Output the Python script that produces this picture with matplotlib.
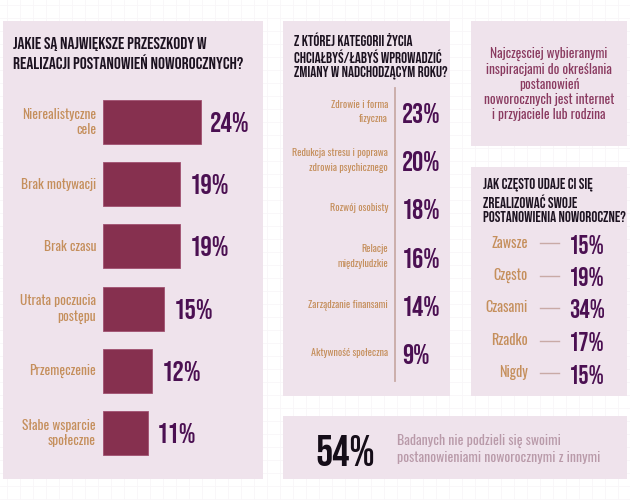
import matplotlib

matplotlib.use("Agg")
import matplotlib.pyplot as plt
from matplotlib.patches import Rectangle

# --- data ---
obstacles = ["Nierealistyczne\ncele", "Brak motywacji", "Brak czasu",
             "Utrata poczucia\npostępu", "Przemęczenie", "Słabe wsparcie\nspołeczne"]
obstacle_pct = [24, 19, 19, 15, 12, 11]

areas = ["Zdrowie i forma\nfizyczna", "Redukcja stresu i poprawa\nzdrowia psychicznego",
         "Rozwój osobisty", "Relacje\nmiędzyludzkie", "Zarządzanie finansami",
         "Aktywność społeczna"]
area_pct = [23, 20, 18, 16, 14, 9]

freq = ["Zawsze", "Często", "Czasami", "Rzadko", "Nigdy"]
freq_pct = [15, 19, 34, 17, 15]

share_not_shared = 54

title_left = "JAKIE SĄ NAJWIĘKSZE PRZESZKODY W\nREALIZACJI POSTANOWIEŃ NOWOROCZNYCH?"
title_mid = "Z KTÓREJ KATEGORII ŻYCIA\nCHCIAŁBYŚ/ŁABYŚ WPROWADZIĆ\nZMIANY W NADCHODZĄCYM ROKU?"
title_freq = "JAK CZĘSTO UDAJE CI SIĘ\nZREALIZOWAĆ SWOJE\nPOSTANOWIENIA NOWOROCZNE?"
inspiration = ("Najczęsciej wybieranymi\ninspiracjami do określania\npostanowień\n"
               "noworocznych jest internet\ni przyjaciele lub rodzina")
not_shared = "Badanych nie podzieli się swoimi\npostanowieniami noworocznymi z innymi"

# --- style ---
PANEL = "#efe3ec"
BAR = "#86304f"
VALUE = "#4b1052"
LABEL = "#c58f5c"
HEAD = "#1c1220"
HEAD_FONT = ["Bebas Neue", "DejaVu Sans"]
BODY_FONT = ["Oswald", "DejaVu Sans"]
plt.rcParams["font.family"] = BODY_FONT

fig = plt.figure(figsize=(6.3, 5.0), dpi=100)
fig.patch.set_facecolor("white")

# pixel-space canvas
bg = fig.add_axes([0, 0, 1, 1])
bg.set_xlim(0, 630)
bg.set_ylim(500, 0)
bg.axis("off")

# faint background grid
for gx in range(7, 631, 13):
    bg.axvline(gx, color="#f8f6f8", lw=0.6, zorder=0)
for gy in range(5, 501, 13):
    bg.axhline(gy, color="#f8f6f8", lw=0.6, zorder=0)

# panels (x, y, w, h)
for x, y, w, h in [(3, 21, 260, 458), (283, 21, 167, 375), (471, 21, 156, 125),
                   (471, 167, 156, 229), (283, 416, 344, 63)]:
    bg.add_patch(Rectangle((x, y), w, h, facecolor=PANEL, edgecolor="none", zorder=1))

# --- left panel: bar chart ---
bg.text(13, 53, title_left, color=HEAD, fontsize=12.4, family=HEAD_FONT,
        va="center", ha="left", linespacing=1.18, zorder=3)

ax = fig.add_axes([103 / 630, 1 - 464 / 500, 163 / 630, (464 - 91) / 500])
ax.set_xlim(0, 40)
ax.set_ylim(len(obstacles) - 0.5, -0.5)
ax.axis("off")
ypos = list(range(len(obstacles)))
ax.barh(ypos, obstacle_pct, height=0.71, color=BAR, edgecolor="#a05070", lw=0.6)
for yi, v, lab in zip(ypos, obstacle_pct, obstacles):
    ax.text(v + 2.3, yi, f"{v}%", color=VALUE, fontsize=20.5, family=HEAD_FONT,
            va="center", ha="left")
    ax.text(-1.7, yi, lab, color=LABEL, fontsize=9.7, fontweight="light",
            va="center", ha="right", linespacing=1.25)

# --- middle panel: life areas ---
bg.text(294, 56, title_mid, color=HEAD, fontsize=10.8, family=HEAD_FONT,
        va="center", ha="left", linespacing=1.24, zorder=3)
bg.plot([395, 395], [88, 381], color="#c9aaa6", lw=1.3, zorder=2)
for i, (lab, v) in enumerate(zip(areas, area_pct)):
    yc = 112 + 48.2 * i
    bg.text(388, yc, lab, color=LABEL, fontsize=7.3, fontweight="light",
            va="center", ha="right", linespacing=1.6, zorder=3)
    bg.text(402, yc + 1, f"{v}%", color=VALUE, fontsize=20, family=HEAD_FONT,
            va="center", ha="left", zorder=3)

# --- right top panel: inspiration note ---
bg.text(549, 84, inspiration, color="#8a3a60", fontsize=9.6, fontweight="light",
        va="center", ha="center", linespacing=1.17, zorder=3)

# --- right lower panel: how often ---
bg.text(483, 200, title_freq, color=HEAD, fontsize=10.8, family=HEAD_FONT,
        va="center", ha="left", linespacing=1.28, zorder=3)
for i, (lab, v) in enumerate(zip(freq, freq_pct)):
    yc = 243 + 32.5 * i
    bg.text(528, yc, lab, color=LABEL, fontsize=10.3, fontweight="light",
            va="center", ha="right", zorder=3)
    bg.plot([540, 559], [yc, yc], color="#c9aaa6", lw=1.0, zorder=3)
    bg.text(569, yc + 1, f"{v}%", color=VALUE, fontsize=18.5, family=HEAD_FONT,
            va="center", ha="left", zorder=3)

# --- bottom panel ---
bg.text(315, 450, f"{share_not_shared}%", color="#150d18", fontsize=31,
        family=HEAD_FONT, va="center", ha="left", zorder=3)
bg.text(397, 449, not_shared, color="#b99aa9", fontsize=10, fontweight="light",
        va="center", ha="left", linespacing=1.2, zorder=3)

fig.savefig("out.png", dpi=100, facecolor=fig.get_facecolor())
